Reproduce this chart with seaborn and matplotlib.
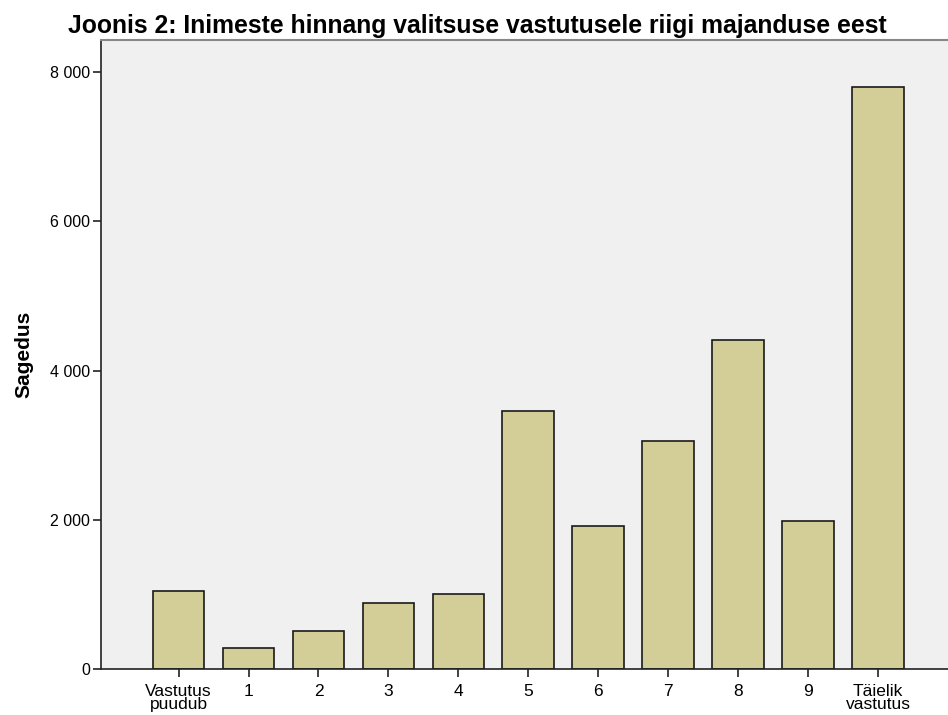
import matplotlib
matplotlib.use("Agg")
import matplotlib.pyplot as plt
from matplotlib.ticker import FuncFormatter
import pandas as pd
import seaborn as sns

# hinnangud skaalal 0..10
categories = ["Vastutus\npuudub", "1", "2", "3", "4", "5", "6", "7", "8", "9", "Täielik\nvastutus"]
counts = [1045, 285, 509, 880, 1010, 3458, 1917, 3056, 4410, 1984, 7802]

df = pd.DataFrame({"hinnang": categories, "sagedus": counts})

sns.set_style("ticks")
plt.rcParams["font.family"] = ["Liberation Sans", "DejaVu Sans"]
plt.rcParams["text.color"] = "black"

fig = plt.figure(figsize=(9.48, 7.15), dpi=100)
ax = fig.add_axes([0.1065, 0.0643, 0.8935, 0.8797])
ax.set_facecolor("#F0F0F0")

sns.barplot(data=df, x="hinnang", y="sagedus", order=categories, color="#D3CE97",
            saturation=1, edgecolor="#1a1a1a", linewidth=1.2, width=0.74, ax=ax)

ax.set_xlim(-1.11, 11.0)
ax.set_ylim(0, 8430)
ax.set_yticks([0, 2000, 4000, 6000, 8000])
ax.yaxis.set_major_formatter(FuncFormatter(lambda v, _: f"{int(v):,}".replace(",", " ")))

ax.tick_params(axis="both", direction="out", length=6, width=1.2,
               color="#222222", labelcolor="black")
ax.tick_params(axis="y", labelsize=11.5, pad=2)
ax.tick_params(axis="x", labelsize=12.5, pad=5)
for lbl in ax.get_xticklabels():
    lbl.set_linespacing(0.8)

for side in ["left", "bottom"]:
    ax.spines[side].set_color("#222222")
    ax.spines[side].set_linewidth(1.2)
ax.spines["top"].set_color("#888888")
ax.spines["top"].set_linewidth(1.5)
ax.spines["right"].set_visible(False)

ax.set_xlabel("")
ax.set_ylabel("Sagedus", fontsize=15, fontweight="bold", color="black", labelpad=12)

fig.text(0.503, 0.964, "Joonis 2: Inimeste hinnang valitsuse vastutusele riigi majanduse eest",
         ha="center", va="center", fontsize=17.8, fontweight="bold", color="black")

fig.savefig("out.png", dpi=100, facecolor="white")
